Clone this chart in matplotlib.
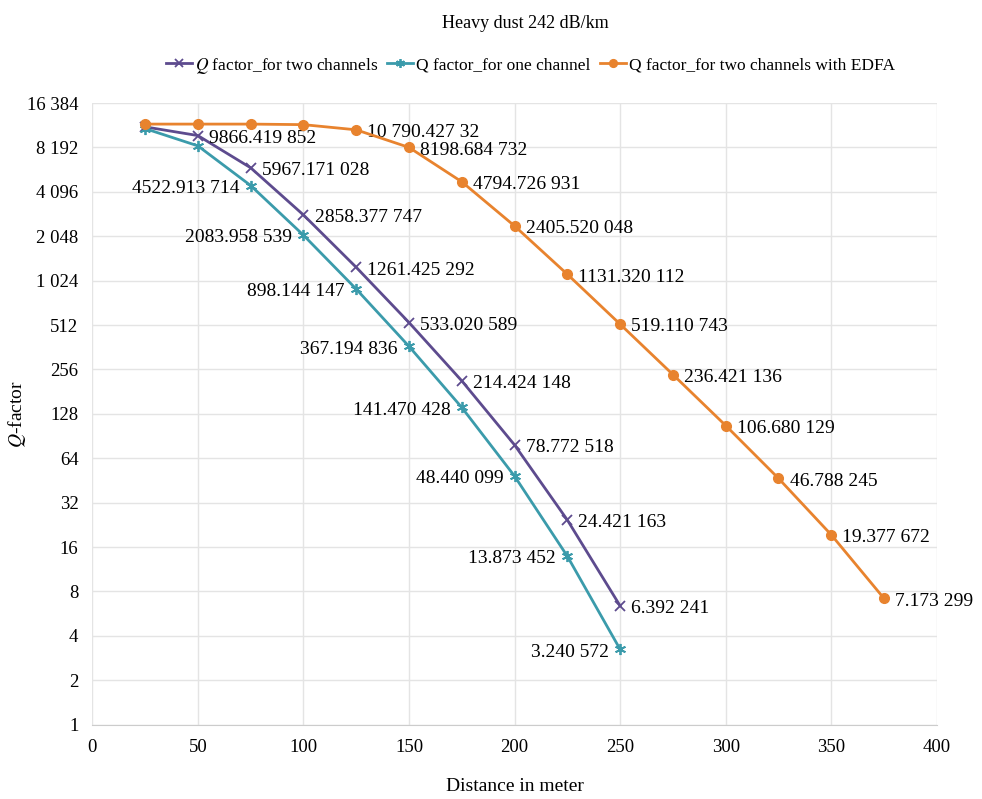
import numpy as np
import matplotlib.pyplot as plt
from matplotlib.ticker import FixedLocator, FuncFormatter

plt.rcParams['font.family'] = ['Liberation Serif', 'DejaVu Serif']
plt.rcParams['mathtext.fontset'] = 'stix'

# distances (m)
x_two = [25, 50, 75, 100, 125, 150, 175, 200, 225, 250]
x_one = [25, 50, 75, 100, 125, 150, 175, 200, 225, 250]
x_edfa = [25, 50, 75, 100, 125, 150, 175, 200, 225, 250, 275, 300, 325, 350, 375]

# Q factor values
q_two = [11300, 9866.419852, 5967.171028, 2858.377747, 1261.425292, 533.020589,
         214.424148, 78.772518, 24.421163, 6.392241]
q_one = [11000, 8400, 4522.913714, 2083.958539, 898.144147, 367.194836,
         141.470428, 48.440099, 13.873452, 3.240572]
q_edfa = [11800, 11800, 11800, 11700, 10790.42732, 8198.684732, 4794.726931,
          2405.520048, 1131.320112, 519.110743, 236.421136, 106.680129,
          46.788245, 19.377672, 7.173299]

# which points carry a value label
lab_two = [False, True, True, True, True, True, True, True, True, True]
lab_one = [False, False, True, True, True, True, True, True, True, True]
lab_edfa = [False, False, False, False] + [True] * 11


def fmt_num(v):
    s = "%.6f" % v
    ip, fp = s.split(".")
    fp = fp.rstrip("0") or "0"
    if len(ip) > 4:
        ig = ""
        while len(ip) > 3:
            ig = " " + ip[-3:] + ig
            ip = ip[:-3]
        ip = ip + ig
    fg = " ".join(fp[i:i + 3] for i in range(0, len(fp), 3))
    return ip + "." + fg


def fmt_tick(v, pos):
    s = "%d" % round(v)
    if len(s) > 3:
        s = s[:-3] + " " + s[-3:]
    return s


c_two = '#5d4b8e'
c_one = '#3b9bab'
c_edfa = '#e8832e'

fig = plt.figure(figsize=(9.82, 7.99), dpi=100)
ax = fig.add_axes([0.094, 0.093, 0.860, 0.778])

ax.plot(x_two, q_two, color=c_two, lw=2, marker='x', ms=7, mew=1.3,
        label=r'$Q$ factor_for two channels', zorder=3)
ax.plot(x_one, q_one, color=c_one, lw=2, marker=(6, 2, 0), ms=8, mew=1.3,
        label='Q factor_for one channel', zorder=3)
ax.plot(x_edfa, q_edfa, color=c_edfa, lw=2, marker='o', ms=7,
        label='Q factor_for two channels with EDFA', zorder=4)

for xs, ys, ls in [(x_two, q_two, lab_two), (x_edfa, q_edfa, lab_edfa)]:
    for xv, yv, l in zip(xs, ys, ls):
        if l:
            ax.annotate(fmt_num(yv), (xv, yv), xytext=(8, -2), textcoords='offset points',
                        ha='left', va='center', fontsize=14)
for xv, yv, l in zip(x_one, q_one, lab_one):
    if l:
        ax.annotate(fmt_num(yv), (xv, yv), xytext=(-8, -2), textcoords='offset points',
                    ha='right', va='center', fontsize=14)

ax.set_yscale('log', base=2)
ax.set_ylim(1, 16384)
ax.set_xlim(0, 400)
ax.yaxis.set_major_locator(FixedLocator([2 ** i for i in range(15)]))
ax.yaxis.set_minor_locator(FixedLocator([]))
ax.yaxis.set_major_formatter(FuncFormatter(fmt_tick))
ax.set_xticks(range(0, 401, 50))
ax.tick_params(axis='both', length=0, labelsize=13.5, pad=10)
ax.grid(True, color='#e4e4e4', lw=1)
ax.set_axisbelow(True)
for s in ['top', 'right', 'left']:
    ax.spines[s].set_visible(False)
ax.spines['bottom'].set_color('#cccccc')

ax.set_xlabel('Distance in meter', fontsize=14, labelpad=16)
ax.set_ylabel(r'$Q$-factor', fontsize=14)
ax.yaxis.set_label_coords(-0.076, 0.5)

fig.text(0.535, 0.970, 'Heavy dust 242 dB/km', ha='center', va='center', fontsize=13)
fig.legend(loc='center', bbox_to_anchor=(0.54, 0.918), ncol=3, frameon=False,
           fontsize=12.5, handlelength=1.5, handletextpad=0.2, columnspacing=0.5,
           markerscale=0.8)

fig.savefig('out.png', dpi=100)
